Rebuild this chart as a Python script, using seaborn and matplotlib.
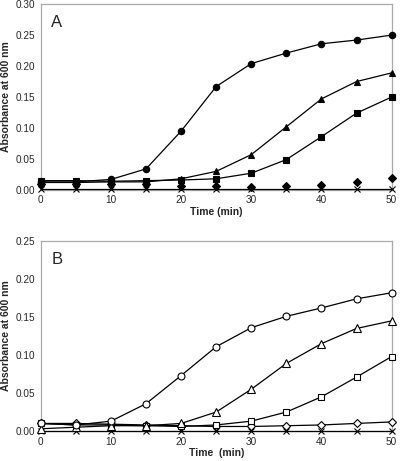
import pandas as pd
import matplotlib
matplotlib.use("Agg")
import matplotlib.pyplot as plt
import seaborn as sns

time = [0, 5, 10, 15, 20, 25, 30, 35, 40, 45, 50]

# panel A (filled symbols)
a_circle = [0.013, 0.013, 0.017, 0.034, 0.095, 0.167, 0.204, 0.221, 0.236, 0.242, 0.250]
a_triangle = [0.012, 0.012, 0.013, 0.013, 0.018, 0.030, 0.057, 0.102, 0.147, 0.175, 0.189]
a_square = [0.015, 0.015, 0.014, 0.015, 0.016, 0.018, 0.027, 0.049, 0.086, 0.124, 0.150]
a_diamond = [0.010, 0.010, 0.010, 0.010, 0.006, 0.006, 0.005, 0.006, 0.008, 0.013, 0.020]
a_cross = [0.001, 0.001, 0.001, 0.001, 0.001, 0.001, 0.001, 0.001, 0.001, 0.001, 0.001]

# panel B (open symbols)
b_circle = [0.010, 0.008, 0.013, 0.036, 0.073, 0.111, 0.136, 0.151, 0.162, 0.174, 0.182]
b_triangle = [0.003, 0.005, 0.007, 0.007, 0.010, 0.025, 0.055, 0.089, 0.115, 0.135, 0.145]
b_square = [0.010, 0.008, 0.008, 0.007, 0.006, 0.008, 0.013, 0.025, 0.045, 0.071, 0.098]
b_diamond = [0.010, 0.010, 0.009, 0.008, 0.007, 0.006, 0.006, 0.007, 0.008, 0.010, 0.012]
b_cross = [0.000, 0.000, 0.000, 0.000, 0.000, 0.000, 0.000, 0.000, 0.000, 0.000, 0.000]

sns.set_style("white")
plt.rcParams['font.family'] = ['Liberation Sans', 'DejaVu Sans']

fig = plt.figure(figsize=(4, 4.61), dpi=100)
axA = fig.add_axes([0.102, 0.588, 0.877, 0.403])
axB = fig.add_axes([0.102, 0.065, 0.877, 0.412])


def draw(ax, series, filled):
    for vals, mk, ms, line in series:
        df = pd.DataFrame({"t": time, "y": vals})
        face = "black" if filled else "white"
        if mk == "x":
            face = "black"
        sns.lineplot(data=df, x="t", y="y", ax=ax, color="black",
                     linewidth=0.9 if line else 0, marker=mk, markersize=ms,
                     markerfacecolor=face, markeredgecolor="black",
                     markeredgewidth=0.8, zorder=3)


draw(axA, [(a_cross, "x", 4.5, True), (a_diamond, "D", 3.6, False),
           (a_square, "s", 4.3, True), (a_triangle, "^", 5, True),
           (a_circle, "o", 4.6, True)], True)
draw(axB, [(b_cross, "x", 4.5, True), (b_diamond, "D", 3.8, True),
           (b_square, "s", 4.6, True), (b_triangle, "^", 5.2, True),
           (b_circle, "o", 5, True)], False)

for ax, ymax, label, xlabel in [(axA, 0.30, "A", "Time (min)"),
                                (axB, 0.25, "B", "Time  (min)")]:
    ax.set_xlim(0, 50)
    ax.set_ylim(0, ymax)
    ax.set_xticks(range(0, 51, 10))
    ax.set_yticks([i * 0.05 for i in range(int(round(ymax / 0.05)) + 1)])
    ax.yaxis.set_major_formatter(matplotlib.ticker.FormatStrFormatter("%.2f"))
    ax.tick_params(labelsize=7.2, length=2, color="#999999", pad=2)
    for s in ax.spines.values():
        s.set_color("#aaaaaa")
        s.set_linewidth(0.9)
    ax.set_xlabel(xlabel, fontsize=7.5, fontweight="bold", labelpad=1)
    ax.set_ylabel("Absorbance at 600 nm", fontsize=7.5, fontweight="bold", labelpad=3)
    ax.text(0.03, 0.94, label, transform=ax.transAxes, fontsize=12, va="top")
    ax.margins(0)
    ax.get_legend() and ax.get_legend().remove()
    for l in ax.lines:
        l.set_clip_on(False)

fig.savefig("out.png", dpi=100)
